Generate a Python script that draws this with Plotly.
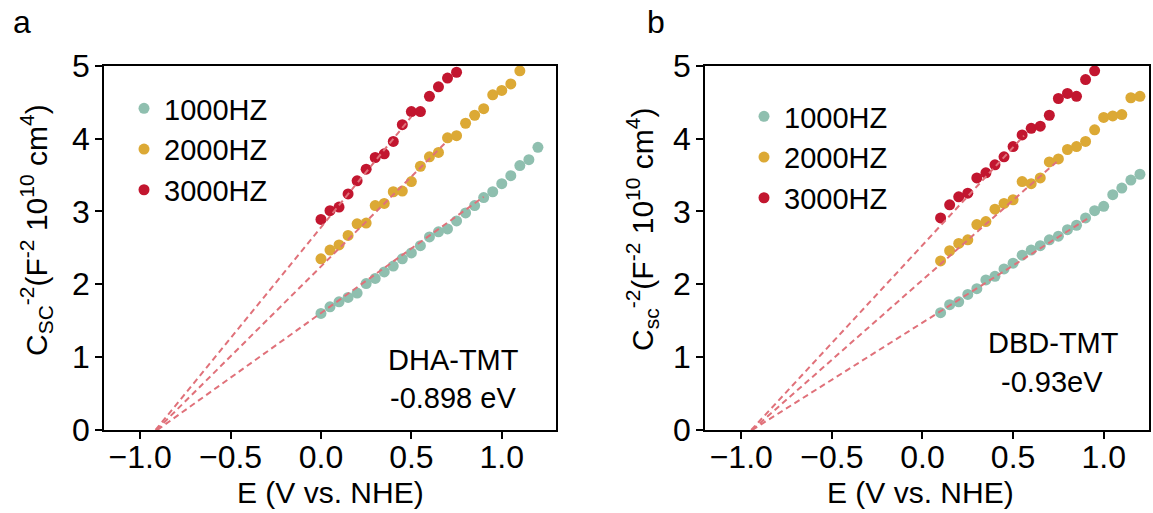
import plotly.graph_objects as go

# ---------------- data ----------------
series_names = ["1000HZ", "2000HZ", "3000HZ"]
colors = ["#8FBFAF", "#DCA935", "#C2162F"]
fit_color = "#E0717A"

# panel a (DHA-TMT)
a_x_1000 = [0.00, 0.05, 0.10, 0.15, 0.20, 0.25, 0.30, 0.35, 0.40, 0.45, 0.50, 0.55, 0.60,
            0.65, 0.70, 0.75, 0.80, 0.85, 0.90, 0.95, 1.00, 1.05, 1.10, 1.15, 1.20]
a_y_1000 = [1.60, 1.69, 1.76, 1.82, 1.88, 2.01, 2.08, 2.17, 2.25, 2.35, 2.43, 2.53, 2.65,
            2.72, 2.76, 2.87, 2.98, 3.08, 3.19, 3.27, 3.38, 3.49, 3.63, 3.71, 3.88]
a_x_2000 = [0.00, 0.05, 0.10, 0.15, 0.20, 0.25, 0.30, 0.35, 0.40, 0.45, 0.50, 0.55, 0.60,
            0.65, 0.70, 0.75, 0.80, 0.85, 0.90, 0.95, 1.00, 1.05, 1.10]
a_y_2000 = [2.35, 2.47, 2.54, 2.67, 2.83, 2.84, 3.08, 3.11, 3.27, 3.28, 3.41, 3.62, 3.75,
            3.81, 4.01, 4.04, 4.21, 4.32, 4.41, 4.60, 4.66, 4.75, 4.93]
a_x_3000 = [0.00, 0.05, 0.10, 0.15, 0.20, 0.25, 0.30, 0.35, 0.40, 0.45, 0.50, 0.55, 0.60,
            0.65, 0.70, 0.75]
a_y_3000 = [2.89, 3.01, 3.06, 3.24, 3.42, 3.58, 3.74, 3.79, 3.96, 4.19, 4.37, 4.37, 4.58,
            4.71, 4.83, 4.91]
a_fit_x0 = [-0.905, -0.91, -0.915]
a_fit_x1 = [0.90, 0.70, 0.50]
a_fit_y1 = [3.20, 3.97, 4.30]

# panel b (DBD-TMT)
b_x_1000 = [0.10, 0.15, 0.20, 0.25, 0.30, 0.35, 0.40, 0.45, 0.50, 0.55, 0.60, 0.65, 0.70,
            0.75, 0.80, 0.85, 0.90, 0.95, 1.00, 1.05, 1.10, 1.15, 1.20]
b_y_1000 = [1.61, 1.72, 1.76, 1.86, 1.94, 2.06, 2.11, 2.21, 2.29, 2.40, 2.47, 2.53, 2.61,
            2.66, 2.75, 2.81, 2.91, 3.01, 3.07, 3.23, 3.32, 3.43, 3.51]
b_x_2000 = [0.10, 0.15, 0.20, 0.25, 0.30, 0.35, 0.40, 0.45, 0.50, 0.55, 0.60, 0.65, 0.70,
            0.75, 0.80, 0.85, 0.90, 0.95, 1.00, 1.05, 1.10, 1.15, 1.20]
b_y_2000 = [2.32, 2.46, 2.56, 2.61, 2.82, 2.86, 3.03, 3.11, 3.16, 3.41, 3.38, 3.46, 3.68,
            3.72, 3.85, 3.89, 3.96, 4.12, 4.29, 4.31, 4.33, 4.56, 4.58]
b_x_3000 = [0.10, 0.15, 0.20, 0.25, 0.30, 0.35, 0.40, 0.45, 0.50, 0.55, 0.60, 0.65, 0.70,
            0.75, 0.80, 0.85, 0.90, 0.95]
b_y_3000 = [2.91, 3.09, 3.20, 3.25, 3.46, 3.53, 3.64, 3.75, 3.89, 4.05, 4.14, 4.17, 4.32,
            4.55, 4.62, 4.58, 4.81, 4.93]
b_fit_x0 = [-0.94, -0.94, -0.945]
b_fit_x1 = [0.91, 0.74, 0.56]
b_fit_y1 = [2.90, 3.68, 4.04]

x_tickvals = [-1.0, -0.5, 0.0, 0.5, 1.0]
x_ticktext = ["\u22121.0", "\u22120.5", "0.0", "0.5", "1.0"]
y_tickvals = [0, 1, 2, 3, 4, 5]
y_ticktext = ["0", "1", "2", "3", "4", "5"]

FONT = "Liberation Sans, Arial, sans-serif"
W, H = 1153, 513

fig = go.Figure()

panels = [
    dict(xs=[a_x_1000, a_x_2000, a_x_3000], ys=[a_y_1000, a_y_2000, a_y_3000],
         fx0=a_fit_x0, fx1=a_fit_x1, fy1=a_fit_y1, xa="x", ya="y", legend="legend"),
    dict(xs=[b_x_1000, b_x_2000, b_x_3000], ys=[b_y_1000, b_y_2000, b_y_3000],
         fx0=b_fit_x0, fx1=b_fit_x1, fy1=b_fit_y1, xa="x2", ya="y2", legend="legend2"),
]

for p in panels:
    for i in range(3):
        fig.add_trace(go.Scatter(
            x=p["xs"][i], y=p["ys"][i], mode="markers", name=series_names[i],
            marker=dict(color=colors[i], size=11, line=dict(width=0)),
            xaxis=p["xa"], yaxis=p["ya"], legend=p["legend"], showlegend=True))
    for i in range(3):
        fig.add_trace(go.Scatter(
            x=[p["fx0"][i], p["fx1"][i]], y=[0, p["fy1"][i]], mode="lines",
            line=dict(color=fit_color, width=2, dash="6px,4px"),
            xaxis=p["xa"], yaxis=p["ya"], showlegend=False, hoverinfo="skip"))

axis_common = dict(showline=True, linecolor="black", linewidth=1.5, mirror=True,
                   ticks="outside", ticklen=7, tickwidth=1.5, tickcolor="black",
                   showgrid=False, zeroline=False, automargin=False,
                   tickfont=dict(family=FONT, size=32, color="black"))

y0 = 1 - 430 / H
y1 = 1 - 65.7 / H
fig.update_layout(
    width=W, height=H, margin=dict(l=0, r=0, t=0, b=0),
    paper_bgcolor="white", plot_bgcolor="white",
    font=dict(family=FONT, color="black"),
    xaxis=dict(domain=[104 / W, 556 / W], range=[-1.2, 1.3], ticklabelstandoff=-9,
               tickvals=x_tickvals, ticktext=x_ticktext, anchor="y", **axis_common),
    yaxis=dict(domain=[y0, y1], range=[0, 5], ticklabelstandoff=-1,
               tickvals=y_tickvals, ticktext=y_ticktext, anchor="x", **axis_common),
    xaxis2=dict(domain=[705 / W, 1149 / W], range=[-1.2, 1.25], ticklabelstandoff=-9,
                tickvals=x_tickvals, ticktext=x_ticktext, anchor="y2", **axis_common),
    yaxis2=dict(domain=[y0, y1], range=[0, 5], ticklabelstandoff=-1,
                tickvals=y_tickvals, ticktext=y_ticktext, anchor="x2", **axis_common),
    legend=dict(x=124 / W, y=1 - 83 / H, xanchor="left", yanchor="top",
                bgcolor="rgba(0,0,0,0)", font=dict(family=FONT, size=29, color="black")),
    legend2=dict(x=744 / W, y=1 - 91 / H, xanchor="left", yanchor="top",
                 bgcolor="rgba(0,0,0,0)", font=dict(family=FONT, size=29, color="black")),
)

def ann(text, px, py, size, angle=0):
    fig.add_annotation(text=text, x=px / W, y=1 - py / H, xref="paper", yref="paper",
                       xanchor="center", yanchor="middle", showarrow=False,
                       textangle=angle, font=dict(family=FONT, size=size, color="black"))

ann("a", 22, 22, 32)
ann("b", 656, 22, 32)
ytitle_a = "C<sub>SC</sub><sup>-2</sup>(F<sup>-2</sup> 10<sup>10</sup> cm<sup>4</sup>)"
ytitle_b = "C<sub>sc</sub><sup>-2</sup>(F<sup>-2</sup> 10<sup>10</sup> cm<sup>4</sup>)"
ann(ytitle_a, 36, 230, 30, -90)
ann(ytitle_b, 642, 230, 30, -90)
ann("E (V vs. NHE)", 330, 492, 30)
ann("E (V vs. NHE)", 920, 492, 30)
ann("DHA-TMT", 453, 360, 29)
ann("-0.898 eV", 453, 398, 29)
ann("DBD-TMT", 1053, 343, 29)
ann("-0.93eV", 1052, 382, 29)

fig.write_html("out.html")
